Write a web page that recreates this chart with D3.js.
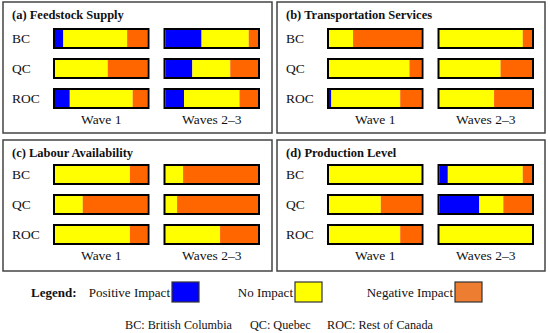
<!DOCTYPE html>
<html>
<head>
<meta charset="utf-8">
<script src="https://cdn.jsdelivr.net/npm/d3@7"></script>
<style>
  body { margin: 0; background: #fff; }
  svg { display: block; }
</style>
</head>
<body>
<div id="chart"></div>
<script>
// regions and waves
const regions = ["BC", "QC", "ROC"];
const waves = ["Wave 1", "Waves 2\u20133"];
const panelTitles = ["(a) Feedstock Supply", "(b) Transportation Services",
                     "(c) Labour Availability", "(d) Production Level"];

// shares (%) of [positive, no impact, negative] per region, per wave
const feedstockW1 = [[9, 69, 22], [0, 57, 43], [16, 68, 16]];
const feedstockW23 = [[39, 51, 10], [29, 41, 30], [20, 60, 20]];
const transportW1 = [[0, 26, 74], [0, 87, 13], [2.5, 74.5, 23]];
const transportW23 = [[0, 90, 10], [0, 66, 34], [0, 59, 41]];
const labourW1 = [[0, 81, 19], [0, 30, 70], [0, 81, 19]];
const labourW23 = [[0, 19, 81], [0, 12.5, 87.5], [0, 59, 41]];
const productionW1 = [[0, 100, 0], [0, 56, 44], [0, 77, 23]];
const productionW23 = [[9, 81, 10], [43, 26, 31], [0, 100, 0]];

const impacts = ["Positive Impact", "No Impact", "Negative Impact"];
const footnotes = ["BC: British Columbia", "QC: Quebec", "ROC: Rest of Canada"];

const panelData = [
  [feedstockW1, feedstockW23],
  [transportW1, transportW23],
  [labourW1, labourW23],
  [productionW1, productionW23]
];

const width = 550, height = 333;
const serif = "Liberation Serif";
const barColors = ["#0000ff", "#ffff00", "#ff6600"];
const legendColors = ["#0000ff", "#ffff00", "#ed7d31"];

const svg = d3.select("#chart").append("svg")
  .attr("width", width)
  .attr("height", height)
  .style("font-family", serif);

// panel boxes (off = vertical shift of bars and wave labels)
const panels = [
  {x: 3, y: 2, w: 269, h: 131, off: 0},
  {x: 277, y: 2, w: 268, h: 131, off: 0},
  {x: 3, y: 140, w: 269, h: 131, off: -2},
  {x: 277, y: 140, w: 268, h: 131, off: -2}
];

const col = d3.scaleBand().domain(waves).range([51, 256]).paddingInner(0.145);
const row = d3.scaleBand().domain(regions).range([27, 106]).paddingInner(11 / 30).paddingOuter(0);

panels.forEach(function(p, i) {
  const g = svg.append("g").attr("transform", `translate(${p.x},${p.y})`);

  g.append("rect")
    .attr("x", 0).attr("y", 0)
    .attr("width", p.w).attr("height", p.h)
    .attr("fill", "none")
    .attr("stroke", "#444")
    .attr("stroke-width", 1.5);

  g.append("text")
    .attr("x", 9).attr("y", 17)
    .attr("fill", "#111")
    .style("font-size", "12.5px")
    .style("font-weight", "bold")
    .text(panelTitles[i]);

  const inner = g.append("g").attr("transform", `translate(0,${p.off})`);

  inner.selectAll(".rlab")
    .data(regions)
    .join("text")
      .attr("x", 9)
      .attr("y", d => row(d) + row.bandwidth() / 2)
      .attr("dy", "0.35em")
      .attr("fill", "#111")
      .style("font-size", "13.5px")
      .text(d => d);

  inner.selectAll(".clab")
    .data(waves)
    .join("text")
      .attr("x", d => col(d) + col.bandwidth() / 2)
      .attr("y", 122)
      .attr("text-anchor", "middle")
      .attr("fill", "#111")
      .style("font-size", "13.5px")
      .text(d => d);

  waves.forEach(function(w, wi) {
    const x = d3.scaleLinear().domain([0, 100]).range([col(w) + 1, col(w) + col.bandwidth() - 1]);
    regions.forEach(function(r, ri) {
      const vals = panelData[i][wi][ri];
      const stacked = d3.cumsum([0].concat(vals));
      inner.append("g").selectAll("rect")
        .data(vals.map((v, k) => ({v: v, k: k, s: stacked[k]})).filter(d => d.v > 0))
        .join("rect")
          .attr("x", d => x(d.s))
          .attr("y", row(r))
          .attr("width", d => x(d.s + d.v) - x(d.s))
          .attr("height", row.bandwidth())
          .attr("fill", d => barColors[d.k]);
      inner.append("rect")
        .attr("x", col(w))
        .attr("y", row(r))
        .attr("width", col.bandwidth())
        .attr("height", row.bandwidth())
        .attr("fill", "none")
        .attr("stroke", "#000")
        .attr("stroke-width", 2);
    });
  });
});

// legend
svg.append("text")
  .attr("x", 31).attr("y", 292)
  .attr("dy", "0.35em")
  .attr("fill", "#111")
  .style("font-size", "13px")
  .style("font-weight", "bold")
  .text("Legend:");

const legendBoxX = [172, 295, 455];
impacts.forEach(function(name, k) {
  svg.append("rect")
    .attr("x", legendBoxX[k]).attr("y", 282)
    .attr("width", 27).attr("height", 20)
    .attr("fill", legendColors[k])
    .attr("stroke", "#333")
    .attr("stroke-width", 1.2);
  svg.append("text")
    .attr("x", legendBoxX[k] - 2).attr("y", 292)
    .attr("dy", "0.35em")
    .attr("text-anchor", "end")
    .attr("fill", "#111")
    .style("font-size", "13px")
    .text(name);
});

const footX = [125, 250, 327];
svg.selectAll(".foot")
  .data(footnotes)
  .join("text")
    .attr("x", (d, i) => footX[i])
    .attr("y", 325)
    .attr("dy", "0.35em")
    .attr("fill", "#111")
    .style("font-size", "12.2px")
    .text(d => d);
</script>
</body>
</html>
